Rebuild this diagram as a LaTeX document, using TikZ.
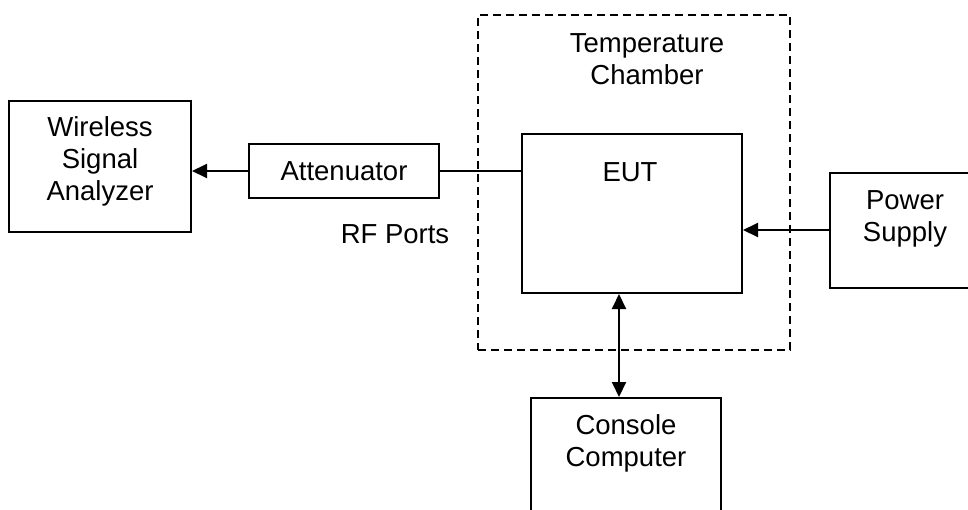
\documentclass[tikz,border=0pt]{standalone}
\usepackage{fontspec}
\setmainfont{Liberation Sans}
\usetikzlibrary{arrows.meta}
\begin{document}
\begin{tikzpicture}[x=1pt,y=-1pt,
  box/.style={draw,line width=2pt,minimum width=#1,inner sep=0pt},
  lbl/.style={font=\fontsize{27.5}{32}\selectfont,align=center,inner sep=0pt},
  conn/.style={line width=2pt},
  tip/.style={-{Triangle[length=15pt,width=14pt]}},
  bothtip/.style={{Triangle[length=15pt,width=14pt]}-{Triangle[length=15pt,width=14pt]}}]
\useasboundingbox (0,0) rectangle (968,509);
\clip (0,0) rectangle (968,509);
% boxes
\node[box=182pt,minimum height=131pt] (wsa) at (100,166.5) {};
\node[box=190pt,minimum height=54pt] (att) at (344,171) {};
\node[box=220pt,minimum height=159pt] (eut) at (632,213.5) {};
\node[box=150pt,minimum height=115pt] (ps) at (905,230) {};
\node[box=190pt,minimum height=124pt] (cc) at (626,460) {};
\node[draw,dashed,dash pattern=on 8pt off 5pt,line width=2pt,minimum width=312pt,minimum height=335pt,inner sep=0pt] (tc) at (634,182.5) {};
% labels
\node[lbl] (twsa) at (100,161) {Wireless\\Signal\\Analyzer};
\node[lbl] (tatt) at (344,171) {Attenuator};
\node[lbl] (teut) at (630,172) {EUT};
\node[lbl] (tps) at (905,219) {Power\\Supply};
\node[lbl] (tcc) at (626,443) {Console\\Computer};
\node[lbl] (ttc) at (647,59) {Temperature\\Chamber};
\node[lbl] (rf) at (395,234) {RF Ports};
% connectors
\draw[conn,tip] (att.west) -- (att.west -| wsa.east);
\draw[conn] (att.east) -- (att.east -| eut.west);
\draw[conn,tip] (ps.west) -- (ps.west -| eut.east);
\coordinate (ccx) at (619,0);
\draw[conn,bothtip] (ccx |- cc.north) -- (ccx |- eut.south);
\end{tikzpicture}
\end{document}
